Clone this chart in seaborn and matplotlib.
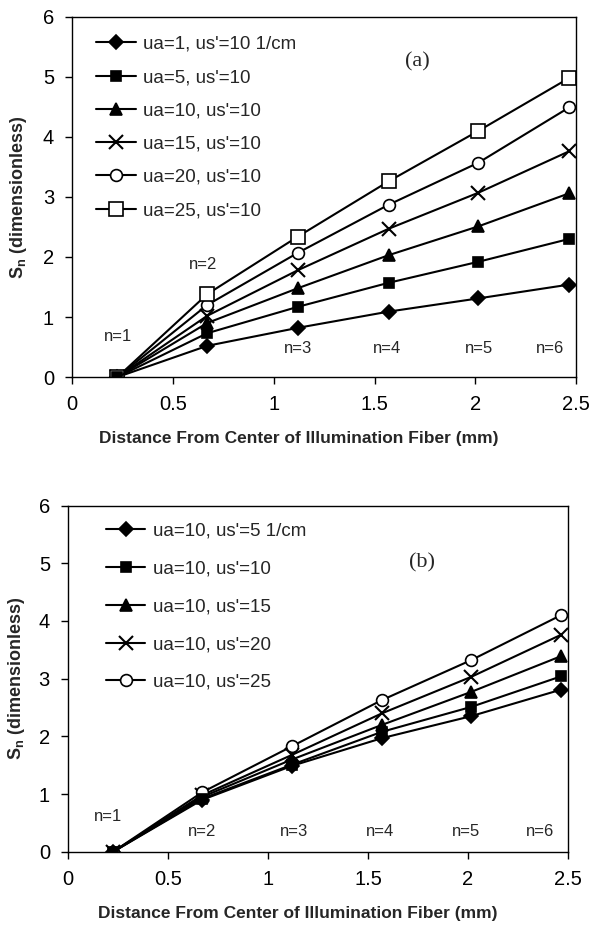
import matplotlib
matplotlib.use('Agg')
import matplotlib.pyplot as plt
import seaborn as sns
import pandas as pd

sns.set_style('white')
plt.rcParams['font.family'] = ['Liberation Sans', 'DejaVu Sans']
plt.rcParams['mathtext.fontset'] = 'custom'
plt.rcParams['mathtext.rm'] = 'Liberation Sans'
plt.rcParams['mathtext.bf'] = 'Liberation Sans:bold'

# fiber distances (mm), n = 1..6
dist = [0.225, 0.67, 1.12, 1.57, 2.015, 2.465]
n_labels = ['n=1', 'n=2', 'n=3', 'n=4', 'n=5', 'n=6']

# panel (a): varying ua, us'=10
labels_a = ["ua=1, us'=10 1/cm", "ua=5, us'=10", "ua=10, us'=10",
            "ua=15, us'=10", "ua=20, us'=10", "ua=25, us'=10"]
sn_a = [
    [0, 0.52, 0.82, 1.09, 1.31, 1.54],
    [0, 0.73, 1.17, 1.57, 1.92, 2.30],
    [0, 0.90, 1.48, 2.03, 2.51, 3.06],
    [0, 1.02, 1.78, 2.47, 3.07, 3.76],
    [0, 1.20, 2.07, 2.87, 3.57, 4.49],
    [0, 1.38, 2.34, 3.26, 4.10, 4.98],
]
# n label positions panel (a)
nlab_x_a = [0.23, 0.65, 1.12, 1.56, 2.02, 2.37]
nlab_y_a = [0.67, 1.88, 0.47, 0.47, 0.47, 0.47]

# panel (b): ua=10, varying us'
labels_b = ["ua=10, us'=5 1/cm", "ua=10, us'=10", "ua=10, us'=15",
            "ua=10, us'=20", "ua=10, us'=25"]
sn_b = [
    [0, 0.90, 1.49, 1.97, 2.35, 2.81],
    [0, 0.92, 1.51, 2.08, 2.51, 3.04],
    [0, 0.95, 1.60, 2.20, 2.77, 3.39],
    [0, 0.98, 1.68, 2.40, 3.03, 3.76],
    [0, 1.03, 1.83, 2.63, 3.32, 4.10],
]
nlab_x_b = [0.2, 0.67, 1.13, 1.56, 1.99, 2.36]
nlab_y_b = [0.62, 0.35, 0.35, 0.35, 0.35, 0.35]

# marker, filled?
markers = [('D', True), ('s', True), ('^', True), ('x', True), ('o', False), ('s', False)]
msizes = [7.5, 7, 8.5, 9.5, 8.5, 9.5]

fig = plt.figure(figsize=(5.91, 9.31), dpi=100)
ax_a = fig.add_axes([0.122, 0.595, 0.853, 0.387])
ax_b = fig.add_axes([0.115, 0.085, 0.846, 0.372])


def draw_panel(ax, labels, values, nlx, nly, tag, tag_xy, leg_anchor, leg_spacing):
    for i, (lab, vals) in enumerate(zip(labels, values)):
        df = pd.DataFrame({'dist': dist, 'sn': vals})
        m, filled = markers[i]
        # filled squares sit on top (the n=1 point shows as a black square)
        z = 4 if (m == 's' and filled) else 2 + i * 0.1
        sns.lineplot(data=df, x='dist', y='sn', ax=ax, color='black', lw=1.5,
                     marker=m, markersize=msizes[i],
                     markerfacecolor='black' if filled else 'white',
                     markeredgecolor='black', markeredgewidth=1.5 if m == 'x' else 1.2,
                     label=lab, zorder=z)
    for t, x, y in zip(n_labels, nlx, nly):
        ax.text(x, y, t, ha='center', va='center', fontsize=12)
    ax.text(tag_xy[0], tag_xy[1], tag, ha='center', va='center', fontsize=16,
            family='Liberation Serif')
    ax.set_xlim(0, 2.5)
    ax.set_ylim(0, 6)
    ax.set_xticks([0, 0.5, 1, 1.5, 2, 2.5])
    ax.set_xticklabels(['0', '0.5', '1', '1.5', '2', '2.5'])
    ax.set_yticks(range(0, 7))
    ax.tick_params(axis='both', direction='out', length=5, width=1, labelsize=14.5,
                   bottom=True, left=True, pad=8, colors='black')
    for s in ax.spines.values():
        s.set_color('black')
        s.set_linewidth(1.0)
    ax.set_xlabel('Distance From Center of Illumination Fiber (mm)',
                  fontsize=12.5, fontweight='bold')
    ax.set_ylabel(r'$\mathbf{S_n}$ (dimensionless)', fontsize=13, fontweight='bold')
    ax.legend(loc='upper left', bbox_to_anchor=leg_anchor, frameon=False,
              fontsize=13.5, handlelength=2.1, handletextpad=0.4,
              labelspacing=leg_spacing, borderaxespad=0, borderpad=0)


draw_panel(ax_a, labels_a, sn_a, nlab_x_a, nlab_y_a, '(a)', (1.71, 5.25),
           (0.048, 0.947), 0.86)
draw_panel(ax_b, labels_b, sn_b, nlab_x_b, nlab_y_b, '(b)', (1.77, 5.0),
           (0.076, 0.95), 1.1)

ax_a.yaxis.set_label_coords(-0.085, 0.5)
ax_b.yaxis.set_label_coords(-0.082, 0.5)
ax_a.xaxis.set_label_coords(0.45, -0.15)
ax_b.xaxis.set_label_coords(0.46, -0.155)

fig.savefig('out.png', dpi=100)
